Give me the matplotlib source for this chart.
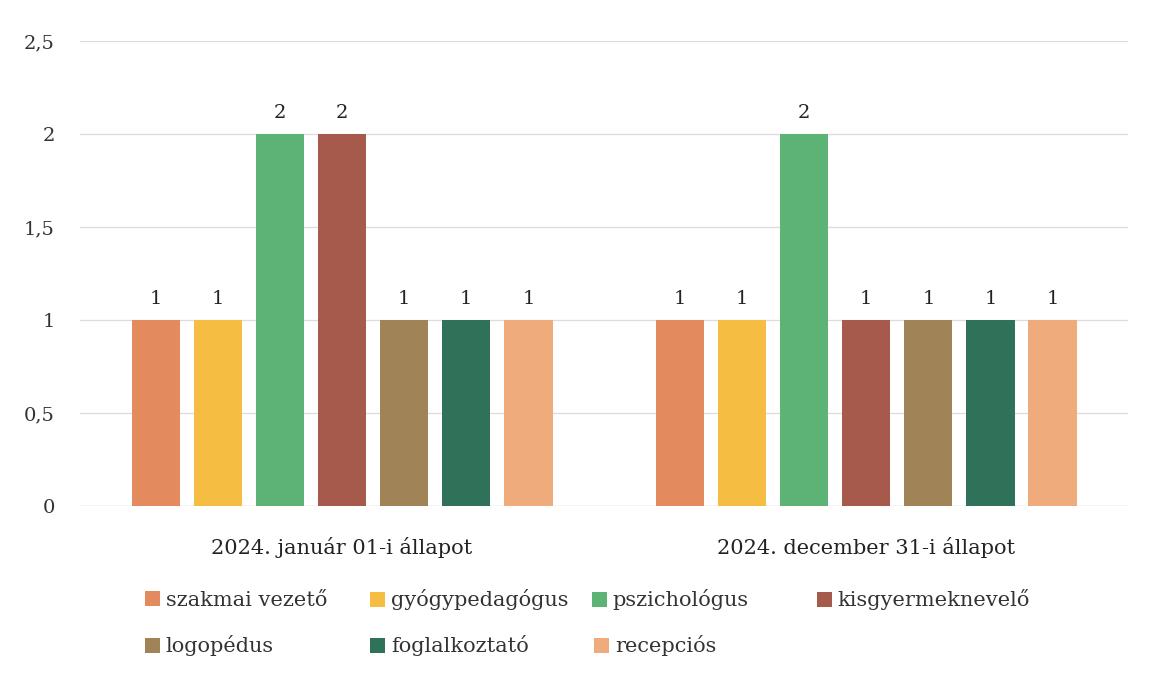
import matplotlib
matplotlib.use("Agg")
import matplotlib.pyplot as plt
import numpy as np

categories = ["2024. január 01-i állapot", "2024. december 31-i állapot"]
series_names = ["szakmai vezető", "gyógypedagógus", "pszichológus",
                "kisgyermeknevelő", "logopédus", "foglalkoztató", "recepciós"]
series_values = [
    [1, 1],
    [1, 1],
    [2, 2],
    [2, 1],
    [1, 1],
    [1, 1],
    [1, 1],
]
colors = ["#E38A5F", "#F5BE43", "#5DB376", "#A65A4B", "#A08458", "#2F7259", "#EFAB7C"]
yticks = [0, 0.5, 1, 1.5, 2, 2.5]
ytick_labels = ["0", "0,5", "1", "1,5", "2", "2,5"]

plt.rcParams['font.family'] = ['DejaVu Serif']

fig = plt.figure(figsize=(11.49, 6.76), dpi=100)
ax = fig.add_axes([0.0696, 0.2515, 0.9124, 0.6875])

x = np.arange(len(categories))
slot = 0.1185
width = 0.092
handles = []
for i, (name, vals, c) in enumerate(zip(series_names, series_values, colors)):
    bc = ax.bar(x + (i - 3) * slot, vals, width=width, color=c, label=name, zorder=3)
    ax.bar_label(bc, labels=[str(v) for v in vals], padding=9, fontsize=14, color="#222222")
    handles.append(bc)

ax.set_ylim(0, 2.5)
ax.set_xlim(-0.5, 1.5)
ax.set_yticks(yticks)
ax.set_yticklabels(ytick_labels, fontsize=14, color="#333333")
ax.set_xticks(x)
ax.set_xticklabels(categories, fontsize=15, color="#222222")
ax.tick_params(axis='y', length=0, pad=18)
ax.tick_params(axis='x', length=0, pad=22)
ax.grid(axis='y', color="#dcdcdc", linewidth=0.9, zorder=0)
for s in ax.spines.values():
    s.set_visible(False)
ax.axhline(0, color="#d0d0d0", linewidth=0.9, zorder=1)

# legend entries positioned like the reference
legend_pos = [(145, 600), (370, 600), (592, 600), (817, 600),
              (145, 646), (370, 646), (594, 646)]
W, H = 1149, 676
for h, name, (px, py) in zip(handles, series_names, legend_pos):
    fig.legend(handles=[h], labels=[name], loc="center left",
               bbox_to_anchor=(px / W, 1 - py / H), frameon=False,
               fontsize=15, handlelength=0.7, handleheight=0.7,
               handletextpad=0.3, borderpad=0, borderaxespad=0,
               labelcolor="#333333")

fig.savefig("out.png", dpi=100, facecolor="white")
